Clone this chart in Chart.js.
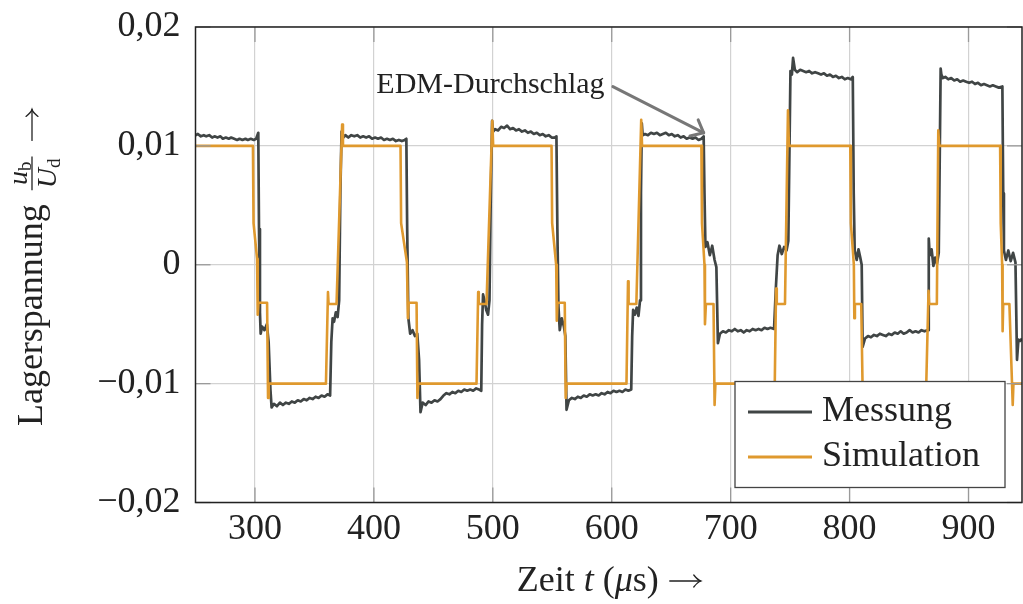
<!DOCTYPE html>
<html>
<head>
<meta charset="utf-8">
<script src="https://cdn.jsdelivr.net/npm/chart.js@4.4.1/dist/chart.umd.min.js"></script>
<style>
  html, body { margin: 0; padding: 0; background: #fff; }
  #wrap { width: 1023px; height: 604px; }
</style>
</head>
<body>
<div id="wrap"><canvas id="c" width="1023" height="604"></canvas></div>
<script>
// ---- data ----
const xTicks = [300, 400, 500, 600, 700, 800, 900];
const yTicks = [-0.02, -0.01, 0, 0.01, 0.02];
const seriesNames = ['Messung', 'Simulation'];

// Messung: time in µs / normalised bearing voltage
const messT = [
  250, 252, 254.5, 257, 259, 261.5, 264, 266, 268.5, 271, 273, 275.5, 278, 280, 282.5, 285, 287, 289.5, 292, 294, 296.5, 299, 301, 302.8,
  303.4, 304.2, 304.8, 306, 308, 310, 311.5, 313, 314,
  316, 318.5, 321, 323.5, 326, 328.5, 331, 333.5, 336, 338.5, 341, 343.5, 346, 348.5, 351, 353.5, 356, 358.5, 361, 363.2,
  364.2, 365.3, 366.5, 368, 369.5, 370.8, 371.8, 372.8, 373.5,
  376, 378.5, 381, 383.5, 386, 388.5, 391, 393.5, 396, 398.5, 401, 403.5, 406, 408.5, 411, 413.5, 416, 418.5, 421, 423.5, 426, 427.3,
  428, 429, 430.5, 432.5, 434.5, 436.5, 438, 439.2,
  441, 443.5, 446, 448.5, 451, 453.5, 456, 458.5, 461, 463.5, 466, 468.5, 471, 473.5, 476, 478.5, 481, 483.5, 486, 488.5, 490.3,
  491, 491.8, 493, 494.5, 496, 497.2, 498.2, 499.4, 500.3,
  502, 504.5, 507, 509.5, 512, 514.5, 517, 519.5, 522, 524.5, 527, 529.5, 532, 534.5, 537, 539.5, 542, 544.5, 547, 549.5, 552, 553.5,
  554.3, 555.2, 556.3, 558, 559.8, 561, 562,
  564, 566.5, 569, 571.5, 574, 576.5, 579, 581.5, 584, 586.5, 589, 591.5, 594, 596.5, 599, 601.5, 604, 606.5, 609, 611.5, 614, 616.4,
  617.2, 618, 619.5, 621, 622.5, 623.8, 624.6, 625.3, 626,
  628, 630.5, 633, 635.5, 638, 640.5, 643, 645.5, 648, 650.5, 653, 655.5, 658, 660.5, 663, 665.5, 668, 670.5, 673, 675.5, 677.3,
  678, 678.8, 680.5, 682.5, 684.5, 686.5, 688, 689.3,
  691, 693.5, 696, 698.5, 701, 703.5, 706, 708.5, 711, 713.5, 716, 718.5, 721, 723.5, 726, 728.5, 731, 733.5, 736.5,
  738, 739.5, 741, 743, 745, 747, 748.5, 750.3, 751.5, 752.5,
  754, 756, 758.5, 761, 763.5, 766, 768.5, 771, 773.5, 776, 778.5, 781, 783.5, 786, 788.5, 791, 793.5, 796, 798.5, 801, 802.7,
  803.5, 804.3, 806, 807.5, 809, 810.2, 811,
  813, 815.5, 818, 820.5, 823, 825.5, 828, 830.5, 833, 835.5, 838, 840.5, 843, 845.5, 848, 850.5, 853, 855.5, 858, 860.5, 863, 866,
  866.6, 867.4, 869, 870.5, 872, 873.5, 875, 876.6, 877.2,
  878.5, 880.5, 883, 885.5, 888, 890.5, 893, 895.5, 898, 900.5, 903, 905.5, 908, 910.5, 913, 915.5, 918, 920.5, 923, 925.5, 928.5,
  929.2, 929.8, 931.5, 933.5, 935.5, 937.5, 939.5, 940.8, 942, 943.5, 945
];
const messU = [
  .0109, .0110, .0108, .0109, .0108, .0109, .0107, .0108, .0107, .0108, .0106, .0107, .0106, .0107, .0106, .0105, .0106, .0105, .0106, .0105, .0106, .0105, .0106, .0111,
  .0030, -.0040, -.0058, -.0052, -.0055, -.0050, -.0065, -.0105, -.0120,
  -.0117, -.0119, -.0116, -.0118, -.0116, -.0117, -.0115, -.0116, -.0114, -.0115, -.0113, -.0114, -.0112, -.0113, -.0111, -.0112, -.0110, -.0111, -.0109, -.0110,
  -.0065, -.0045, -.0048, -.0040, -.0044, -.0030, .0060, .0112, .0106,
  .0109, .0107, .0109, .0108, .0109, .0107, .0108, .0107, .0108, .0106, .0107, .0106, .0107, .0105, .0106, .0105, .0106, .0104, .0105, .0104, .0105, .0106,
  .0030, -.0045, -.0058, -.0055, -.0060, -.0058, -.0080, -.0124,
  -.0116, -.0118, -.0115, -.0116, -.0114, -.0115, -.0113, -.0110, -.0108, -.0109, -.0107, -.0108, -.0106, -.0107, -.0105, -.0106, -.0105, -.0106, -.0104, -.0105, -.0106,
  -.0050, -.0025, -.0030, -.0038, -.0042, -.0030, .0050, .0121, .0112,
  .0114, .0113, .0116, .0115, .0117, .0114, .0115, .0113, .0114, .0112, .0113, .0111, .0112, .0110, .0111, .0109, .0110, .0108, .0109, .0107, .0107, .0108,
  .0030, -.0035, -.0055, -.0045, -.0052, -.0060, -.0122,
  -.0114, -.0112, -.0113, -.0111, -.0112, -.0110, -.0111, -.0109, -.0110, -.0109, -.0110, -.0108, -.0109, -.0107, -.0108, -.0106, -.0107, -.0106, -.0107, -.0105, -.0106, -.0105,
  -.0060, -.0038, -.0042, -.0036, -.0043, -.0030, .0060, .0119, .0109,
  .0110, .0109, .0111, .0110, .0111, .0109, .0110, .0111, .0109, .0110, .0108, .0109, .0107, .0108, .0106, .0107, .0106, .0107, .0105, .0106, .0108,
  .0060, .0015, .0019, .0008, .0016, .0004, -.0002, -.0066,
  -.0058, -.0056, -.0057, -.0055, -.0056, -.0054, -.0056, -.0055, -.0057, -.0055, -.0056, -.0054, -.0055, -.0054, -.0055, -.0053, -.0054, -.0053, -.0054,
  -.0020, .0008, .0016, .0009, .0015, .0012, .0020, .0163, .0160, .0174,
  .0164, .0162, .0164, .0163, .0162, .0163, .0161, .0162, .0161, .0160, .0161, .0159, .0160, .0158, .0159, .0157, .0158, .0156, .0157, .0156, .0158,
  .0060, .0012, .0004, .0013, .0006, .0000, -.0069,
  -.0062, -.0060, -.0061, -.0059, -.0060, -.0058, -.0059, -.0060, -.0058, -.0059, -.0057, -.0058, -.0056, -.0058, -.0057, -.0055, -.0057, -.0056, -.0057, -.0055, -.0056, -.0055,
  .0022, .0008, .0013, -.0001, .0006, .0001, .0010, .0165, .0160,
  .0157, .0158, .0156, .0157, .0155, .0156, .0154, .0155, .0154, .0153, .0154, .0152, .0153, .0151, .0152, .0151, .0150, .0151, .0150, .0149, .0150,
  .0060, .0012, .0004, .0012, .0003, .0010, .0002, -.0080, -.0063, -.0064, -.0062
];

// Simulation
const simT = [
  250, 298.3, 298.8, 301.8, 302.3, 302.9, 310.2, 311.0, 311.6, 359.7, 361.4, 361.9, 368.6, 373.3, 374.0,
  422.4, 422.9, 427.8, 428.6, 429.2, 435.9, 436.6, 437.3, 486.3, 487.7, 488.2, 494.7, 499.6, 500.3,
  549.4, 549.9, 553.3, 553.8, 554.4, 560.5, 561.3, 562.0, 612.4, 613.7, 614.2, 620.7, 624.8, 625.5,
  675.4, 675.9, 678.0, 678.4, 679.2, 685.6, 686.5, 687.2, 737.1, 738.2, 738.8, 745.7, 748.2, 749.0,
  800.6, 801.1, 803.6, 804.0, 804.5, 809.8, 811.2, 811.8, 864.5, 866.4, 866.9, 873.4, 874.6, 875.4,
  926.6, 927.1, 928.3, 928.7, 929.2, 934.4, 937.2, 937.8, 945
];
const simU = [
  .0100, .0100, .0035, .0005, -.0042, -.0032, -.0032, -.0112, -.0100, -.0100, -.0023, -.0033, -.0033, .0118, .0100,
  .0100, .0035, .0002, -.0045, -.0032, -.0032, -.0112, -.0100, -.0100, -.0023, -.0033, -.0033, .0121, .0100,
  .0100, .0035, .0000, -.0047, -.0032, -.0032, -.0112, -.0100, -.0100, -.0014, -.0033, -.0033, .0122, .0100,
  .0100, .0035, .0000, -.0050, -.0033, -.0033, -.0118, -.0100, -.0100, -.0020, -.0033, -.0033, .0130, .0100,
  .0100, .0035, .0000, -.0045, -.0033, -.0033, -.0118, -.0100, -.0100, -.0022, -.0033, -.0033, .0113, .0100,
  .0100, .0035, .0000, -.0056, -.0033, -.0033, -.0118, -.0100, -.0100
];

// ---- look ----
const serif = '"Liberation Serif", "DejaVu Serif", serif';
const farben = { messung: '#404545', simulation: '#df992e', grid: '#d2d2d2', tick: '#9a9a9a', text: '#222' };

const pts = (T, U) => T.map((t, i) => ({ x: t, y: U[i] }));
const fmtY = v => v === 0 ? '0' : (v < 0 ? '\u2212' : '') + Math.abs(v).toFixed(2).replace('.', ',');

// annotation anchor (data coords)
const edmText = { t: 594, u: 0.01445 };
const edmArrow = { t0: 601, u0: 0.01498, t1: 677.3, u1: 0.0111 };

function seg(ctx, x0, y0, x1, y1) {
  ctx.beginPath(); ctx.moveTo(x0, y0); ctx.lineTo(x1, y1); ctx.stroke();
}

// thin math-style arrow "→" starting at (x0, baseline), length len
function pfeil(ctx, x0, base, len) {
  const ym = base - 10;
  ctx.save();
  ctx.strokeStyle = farben.text; ctx.lineWidth = 1.3; ctx.lineCap = 'round';
  seg(ctx, x0 + 2, ym, x0 + len, ym);
  ctx.beginPath();
  ctx.moveTo(x0 + len - 7, ym - 6);
  ctx.quadraticCurveTo(x0 + len - 3, ym - 1, x0 + len, ym);
  ctx.quadraticCurveTo(x0 + len - 3, ym + 1, x0 + len - 7, ym + 6);
  ctx.stroke();
  ctx.restore();
}

const deko = {
  id: 'deko',
  afterDraw(chart) {
    const ctx = chart.ctx, a = chart.chartArea, x = chart.scales.x, y = chart.scales.y;
    ctx.save();

    // small inner ticks
    ctx.strokeStyle = farben.tick; ctx.lineWidth = 1.3;
    xTicks.forEach(v => {
      const px = x.getPixelForValue(v);
      seg(ctx, px, a.top, px, a.top + 15);
      seg(ctx, px, a.bottom - 15, px, a.bottom);
    });
    yTicks.forEach(v => {
      const py = y.getPixelForValue(v);
      seg(ctx, a.left, py, a.left + 15, py);
      seg(ctx, a.right - 15, py, a.right, py);
    });

    // frame
    ctx.strokeStyle = '#222'; ctx.lineWidth = 1.5;
    ctx.strokeRect(a.left, a.top, a.right - a.left, a.bottom - a.top);

    // EDM annotation
    ctx.fillStyle = farben.text;
    ctx.font = '30px ' + serif;
    ctx.textAlign = 'right'; ctx.textBaseline = 'alphabetic';
    ctx.fillText('EDM-Durchschlag', x.getPixelForValue(edmText.t), y.getPixelForValue(edmText.u));
    const ax0 = x.getPixelForValue(edmArrow.t0), ay0 = y.getPixelForValue(edmArrow.u0);
    const ax1 = x.getPixelForValue(edmArrow.t1), ay1 = y.getPixelForValue(edmArrow.u1);
    ctx.strokeStyle = '#777'; ctx.lineWidth = 3; ctx.lineCap = 'round';
    seg(ctx, ax0, ay0, ax1, ay1);
    const ang = Math.atan2(ay1 - ay0, ax1 - ax0) + Math.PI;
    [-0.7, 0.7].forEach(d => seg(ctx, ax1, ay1, ax1 + 14 * Math.cos(ang + d), ay1 + 14 * Math.sin(ang + d)));

    // legend box
    const lg = { x: a.right - 287, y: a.bottom - 121, w: 270, h: 106 };
    ctx.fillStyle = '#fff';
    ctx.fillRect(lg.x, lg.y, lg.w, lg.h);
    ctx.strokeStyle = '#444'; ctx.lineWidth = 1.3; ctx.lineCap = 'butt';
    ctx.strokeRect(lg.x, lg.y, lg.w, lg.h);
    [farben.messung, farben.simulation].forEach((c, i) => {
      const ly = lg.y + 30.5 + i * 45;
      ctx.strokeStyle = c; ctx.lineWidth = 3;
      seg(ctx, lg.x + 13, ly, lg.x + 77, ly);
      ctx.fillStyle = farben.text; ctx.font = '36px ' + serif; ctx.textAlign = 'left';
      ctx.fillText(seriesNames[i], lg.x + 87, ly + 9);
    });

    // x title: Zeit t (µs) →
    const arrowLen = 33;
    const parts = [['Zeit ', ''], ['t', 'italic '], [' (', ''], ['\u03bc', 'italic '], ['s) ', '']];
    let w = arrowLen;
    parts.forEach(p => { ctx.font = p[1] + '36px ' + serif; w += ctx.measureText(p[0]).width; });
    let cx = (a.left + a.right) / 2 - w / 2;
    ctx.fillStyle = farben.text; ctx.textAlign = 'left';
    parts.forEach(p => { ctx.font = p[1] + '36px ' + serif; ctx.fillText(p[0], cx, 591); cx += ctx.measureText(p[0]).width; });
    pfeil(ctx, cx, 591, arrowLen);

    // y title: Lagerspannung u_b/U_d →
    ctx.translate(42, (a.top + a.bottom) / 2 + 3);
    ctx.rotate(-Math.PI / 2);
    ctx.font = '36px ' + serif;
    const wL = ctx.measureText('Lagerspannung').width;
    ctx.font = 'italic 28px ' + serif;
    const wu = ctx.measureText('u').width, wU = ctx.measureText('U').width;
    ctx.font = '19px ' + serif;
    const wb = ctx.measureText('b').width, wd = ctx.measureText('d').width;
    const wF = Math.max(wu + wb, wU + wd) + 4;
    const gap = 14;
    const total = wL + gap + wF + gap + arrowLen;
    let tx = -total / 2;
    ctx.font = '36px ' + serif;
    ctx.fillText('Lagerspannung', tx, 0);
    tx += wL + gap;
    // fraction
    ctx.strokeStyle = farben.text; ctx.lineWidth = 1.3;
    seg(ctx, tx, -10, tx + wF, -10);
    const nx = tx + (wF - wu - wb) / 2;
    ctx.font = 'italic 28px ' + serif; ctx.fillText('u', nx, -15);
    ctx.font = '19px ' + serif; ctx.fillText('b', nx + wu, -11);
    const dx = tx + (wF - wU - wd) / 2;
    ctx.font = 'italic 28px ' + serif; ctx.fillText('U', dx, 14);
    ctx.font = '19px ' + serif; ctx.fillText('d', dx + wU, 18);
    tx += wF + gap;
    pfeil(ctx, tx, 0, arrowLen);

    ctx.restore();
  }
};

new Chart(document.getElementById('c'), {
  type: 'line',
  data: {
    datasets: [
      { label: seriesNames[0], data: pts(messT, messU), borderColor: farben.messung, borderWidth: 2.7, pointRadius: 0, order: 2 },
      { label: seriesNames[1], data: pts(simT, simU), borderColor: farben.simulation, borderWidth: 2.6, pointRadius: 0, order: 1 }
    ]
  },
  options: {
    responsive: false,
    animation: false,
    devicePixelRatio: 1,
    layout: { padding: { top: 27, right: 1, left: 0, bottom: 0 } },
    plugins: { legend: { display: false }, tooltip: { enabled: false } },
    elements: { line: { tension: 0, borderJoinStyle: 'round' } },
    scales: {
      x: {
        type: 'linear', min: 250, max: 945,
        afterBuildTicks: s => { s.ticks = xTicks.map(v => ({ value: v })); },
        afterFit: s => { s.height = 101.5; s.paddingLeft = 0; s.paddingRight = 0; },
        grid: { color: farben.grid, lineWidth: 1.2, drawTicks: false },
        border: { display: false },
        ticks: { padding: 5, color: farben.text, font: { family: serif, size: 36 }, maxRotation: 0, autoSkip: false, callback: v => String(v) }
      },
      y: {
        min: -0.02, max: 0.02,
        afterBuildTicks: s => { s.ticks = yTicks.map(v => ({ value: v })); },
        afterFit: s => { s.width = 195.5; s.paddingTop = 0; s.paddingBottom = 0; },
        grid: { color: farben.grid, lineWidth: 1.2, drawTicks: false },
        border: { display: false },
        ticks: { padding: 15, color: farben.text, font: { family: serif, size: 36 }, autoSkip: false, callback: v => fmtY(v) }
      }
    }
  },
  plugins: [deko]
});
</script>
</body>
</html>
